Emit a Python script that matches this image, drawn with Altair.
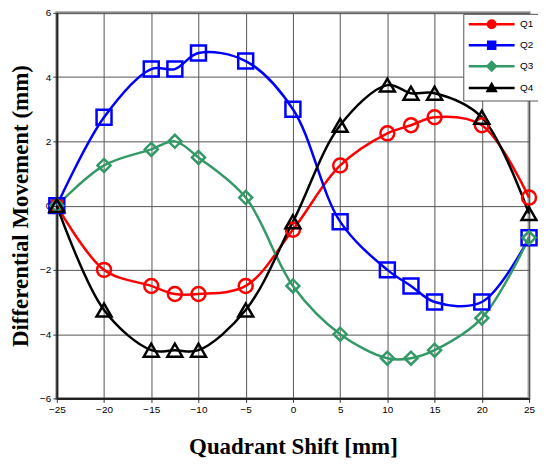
import altair as alt
import pandas as pd

# ---- data ----
x_shift = [-25, -20, -15, -12.5, -10, -5, 0, 5, 10, 12.5, 15, 20, 25]
q1 = [0, -2, -2.5, -2.75, -2.75, -2.5, -0.75, 1.25, 2.25, 2.5, 2.75, 2.5, 0.25]
q2 = [0, 2.75, 4.25, 4.25, 4.75, 4.5, 3, -0.5, -2, -2.5, -3, -3, -1]
q3 = [0, 1.25, 1.75, 2, 1.5, 0.25, -2.5, -4, -4.75, -4.75, -4.5, -3.5, -1]
q4 = [0, -3.25, -4.5, -4.5, -4.5, -3.25, -0.5, 2.5, 3.75, 3.5, 3.5, 2.75, -0.25]

series_names = ["Q1", "Q2", "Q3", "Q4"]
series_colors = ["#FF0000", "#0000FF", "#339966", "#000000"]
marker_shapes = ["circle", "square", "diamond", "triangle-up"]
marker_sizes = [196, 225, 170, 225]
legend_paths = [
    "M-4.6,0H4.6M-0.75,0A0.75,0.75,0,1,0,0.75,0A0.75,0.75,0,1,0,-0.75,0Z",
    "M-4.6,0H4.6M-0.7,-0.7H0.7V0.7H-0.7Z",
    "M-4.6,0H4.6M0,-0.85L0.85,0L0,0.85L-0.85,0Z",
    "M-4.6,0H4.6M0,-0.8L0.8,0.6H-0.8Z",
]

rows = []
for name, vals in zip(series_names, [q1, q2, q3, q4]):
    for xv, yv in zip(x_shift, vals):
        rows.append({"x": xv, "y": yv, "series": name})
df = pd.DataFrame(rows)

x_enc = alt.X("x:Q", scale=alt.Scale(domain=[-25, 25], nice=False),
              axis=alt.Axis(values=[-25, -20, -15, -10, -5, 0, 5, 10, 15, 20, 25],
                            title="Quadrant Shift [mm]", titlePadding=21,
                            titleFontSize=23))
y_enc = alt.Y("y:Q", scale=alt.Scale(domain=[-6, 6], nice=False),
              axis=alt.Axis(values=[-6, -4, -2, 0, 2, 4, 6],
                            title="Differential Movement (mm)", titlePadding=7,
                            titleFontSize=23))
stroke_scale = alt.Scale(domain=series_names, range=series_colors)

legend_common = dict(
    title=None, orient="none", legendX=408, legendY=1,
    padding=4, strokeColor="#555555", fillColor="#FFFFFF",
    labelFont="Liberation Sans", labelFontSize=10, labelColor="#000000",
    symbolSize=100, symbolStrokeWidth=2.5, symbolOffset=18, labelOffset=22,
    rowPadding=3,
)

base = alt.Chart(df)

lines = base.mark_line(interpolate="catmull-rom", strokeWidth=2.5).encode(
    x=x_enc, y=y_enc,
    stroke=alt.Stroke("series:N", scale=stroke_scale, legend=alt.Legend(**legend_common)),
    detail="series:N",
)

point_layers = []
for name, shp, sz in zip(series_names, marker_shapes, marker_sizes):
    point_layers.append(
        base.transform_filter(alt.datum.series == name)
        .mark_point(filled=False, strokeWidth=2.5, size=sz, shape=shp, opacity=1)
        .encode(x="x:Q", y="y:Q",
                stroke=alt.Stroke("series:N", scale=stroke_scale,
                                  legend=alt.Legend(**legend_common)))
    )

# legend-only layer: placed outside the y domain and clipped, so only its legend shows
legend_layer = base.transform_calculate(yoff="datum.y + 100").mark_point(
    filled=True, strokeWidth=2.5, opacity=1, clip=True
).encode(
    x="x:Q", y="yoff:Q",
    fill=alt.Fill("series:N", scale=alt.Scale(domain=series_names, range=series_colors),
                  legend=alt.Legend(**legend_common)),
    shape=alt.Shape("series:N", scale=alt.Scale(domain=series_names, range=legend_paths),
                    legend=alt.Legend(**legend_common)),
    stroke=alt.Stroke("series:N", scale=stroke_scale, legend=alt.Legend(**legend_common)),
)

chart = alt.layer(lines, *point_layers, legend_layer).properties(
    width=474, height=387,
    autosize=alt.AutoSizeParams(type="none"),
    padding={"left": 49, "top": 4, "right": 9, "bottom": 66},
).configure_view(
    stroke="#999999", strokeWidth=3
).configure_axis(
    grid=True, gridColor="#555555", gridWidth=1, gridOpacity=1,
    domainColor="#222222", domainWidth=2,
    tickColor="#333333", tickSize=4, tickWidth=1,
    labelFont="Liberation Sans", labelFontSize=10, labelColor="#000000", labelPadding=2,
    titleFont="Liberation Serif", titleFontWeight="bold", titleColor="#000000",
).configure_axisX(
    labelFlush=False,
).configure_axisY(
    labelFlush=False,
)

chart.save("out.html", embed_options={"renderer": "svg", "actions": False})
